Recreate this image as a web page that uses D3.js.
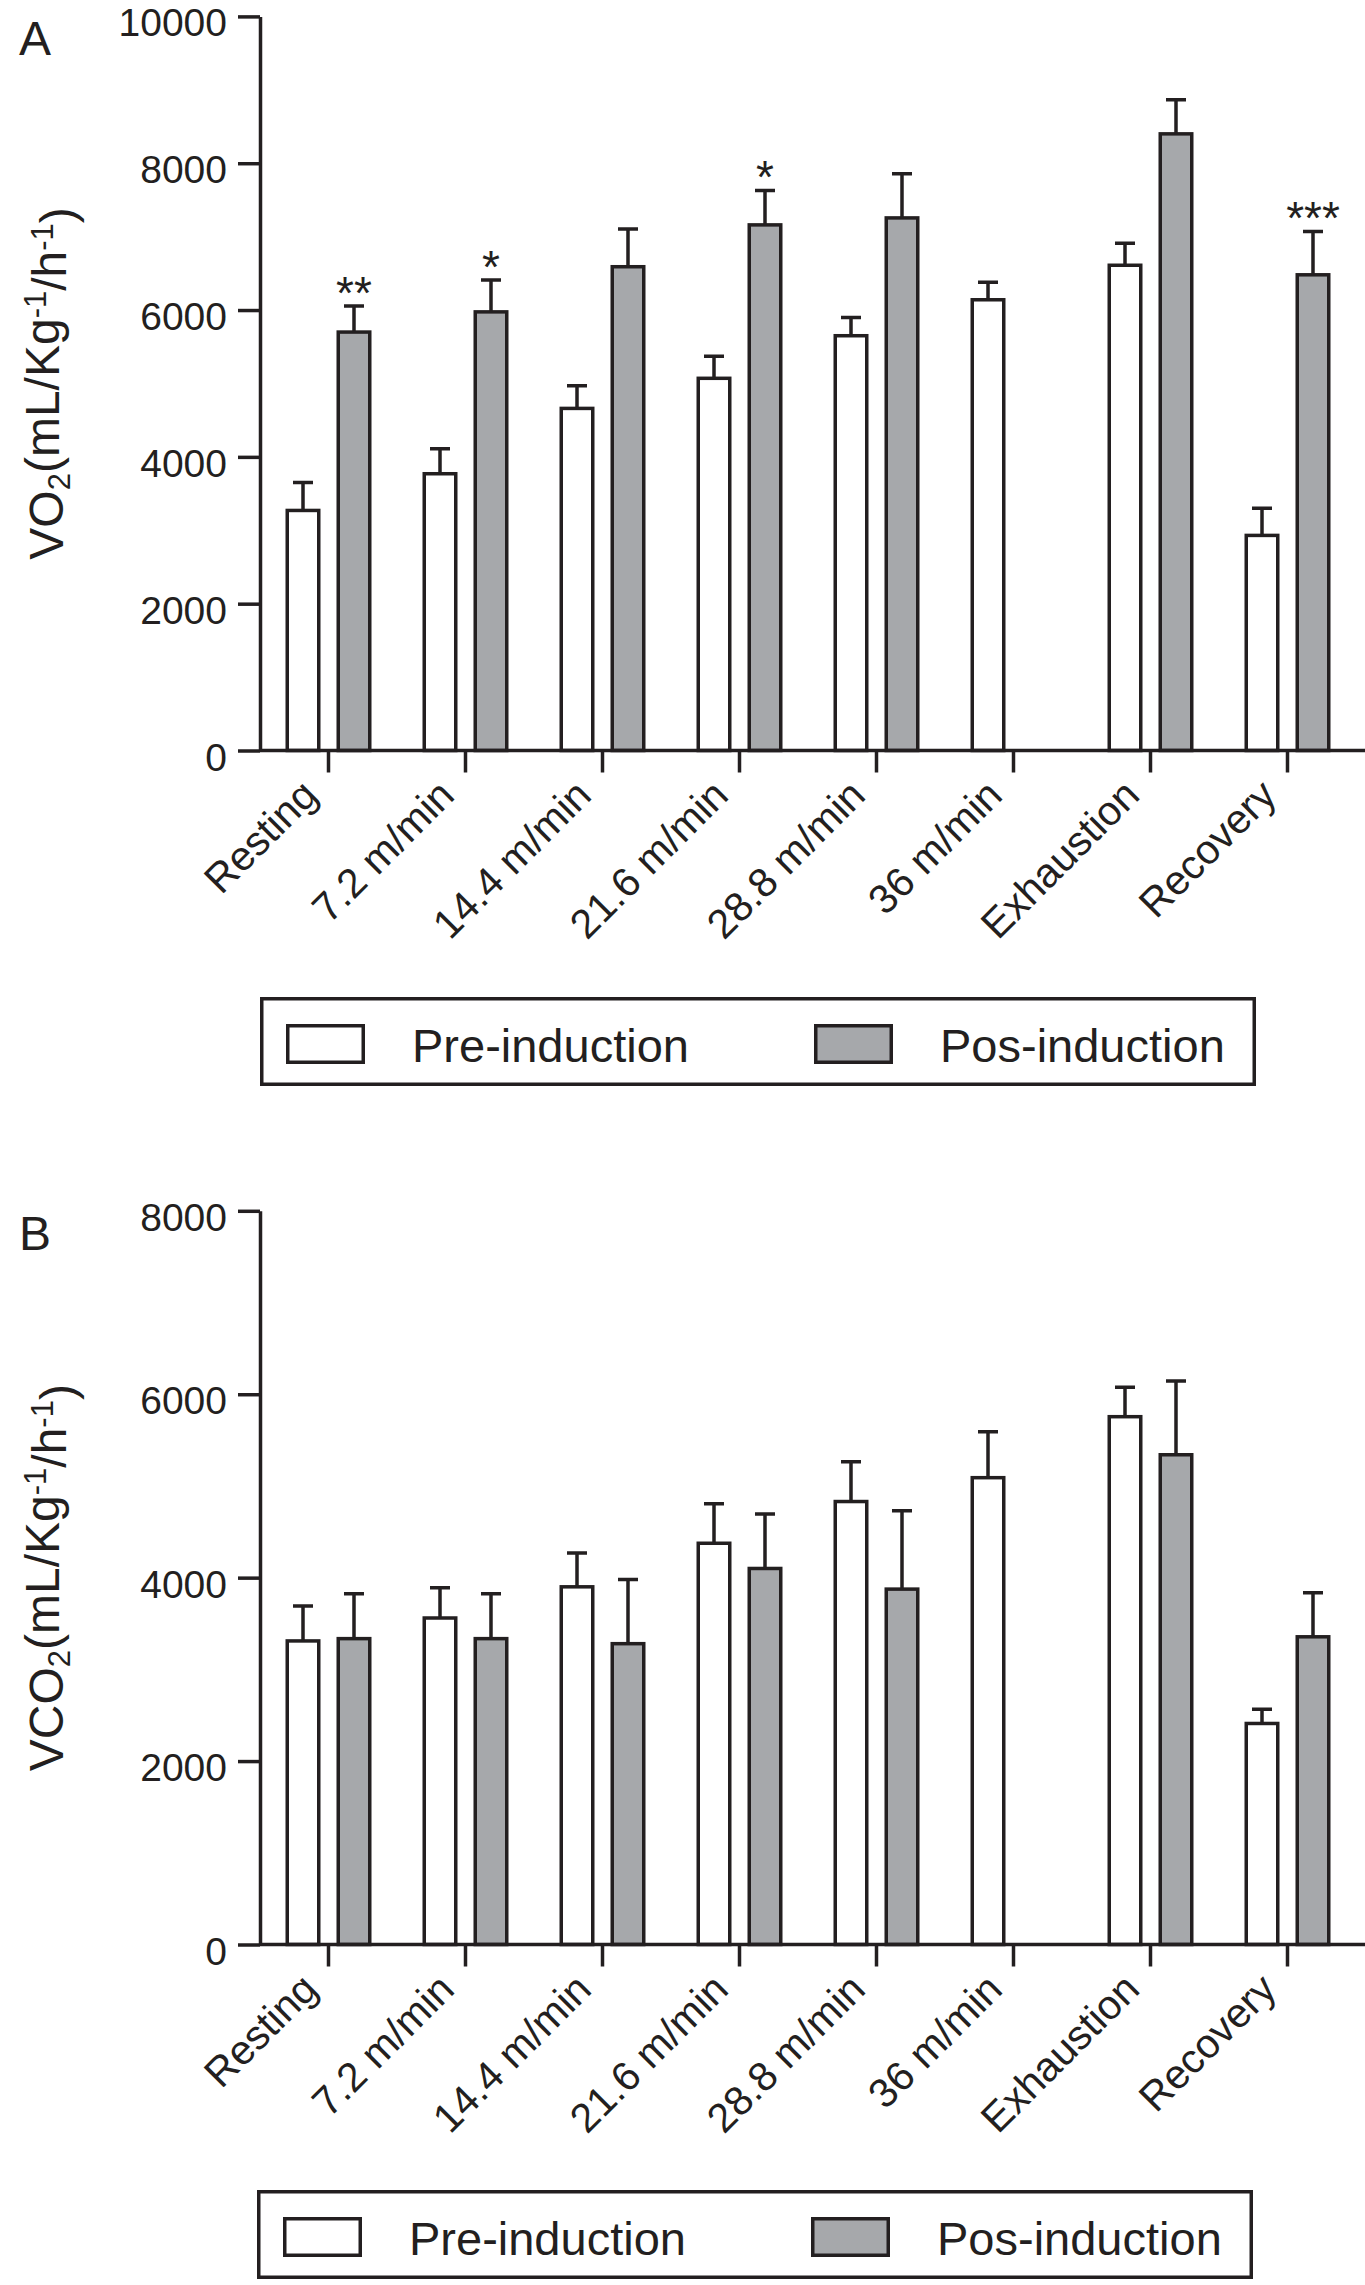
<!DOCTYPE html>
<html>
<head>
<meta charset="utf-8">
<script src="https://cdn.jsdelivr.net/npm/d3@7"></script>
<style>
  body { margin: 0; background: #fff; }
  svg text { font-family: "Liberation Sans", Arial, Helvetica, sans-serif; fill: #231f20; }
</style>
</head>
<body>
<svg id="chart" width="1365" height="2285"></svg>
<script>
// categories on the x axis (same for both panels)
const categories = ["Resting", "7.2 m/min", "14.4 m/min", "21.6 m/min", "28.8 m/min", "36 m/min", "Exhaustion", "Recovery"];
const seriesNames = ["Pre-induction", "Pos-induction"];

// panel A: VO2 means and SEM (null = no bar)
const vo2Pre = [3270, 3770, 4660, 5070, 5650, 6140, 6610, 2930];
const vo2PreErr = [380, 340, 310, 300, 250, 240, 300, 370];
const vo2Pos = [5700, 5975, 6590, 7160, 7255, null, 8400, 6480];
const vo2PosErr = [355, 435, 515, 470, 600, null, 465, 590];
const vo2Stars = ["**", "*", "", "*", "", "", "", "***"];
const vo2Ticks = [0, 2000, 4000, 6000, 8000, 10000];

// panel B: VCO2 means and SEM
const vco2Pre = [3310, 3560, 3900, 4375, 4830, 5090, 5755, 2410];
const vco2PreErr = [380, 330, 370, 430, 435, 500, 320, 155];
const vco2Pos = [3335, 3335, 3280, 4100, 3875, null, 5340, 3355];
const vco2PosErr = [490, 490, 700, 595, 855, null, 805, 480];
const vco2Stars = ["", "", "", "", "", "", "", ""];
const vco2Ticks = [0, 2000, 4000, 6000, 8000];

const ink = "#231f20";
const grey = "#a6a8ab";
const lw = 3.5;

const svg = d3.select("#chart");
svg.append("rect").attr("width", 1365).attr("height", 2285).attr("fill", "#fff");

const drawPanel = (opts) => {
    const g = svg.append("g");
    const x0 = d3.scaleBand().domain(categories).range([260, 1356]).padding(0);
    const x1 = d3.scaleBand().domain(seriesNames).range([-43, 43]).paddingInner(0.3137);
    const y = d3.scaleLinear().domain([0, d3.max(opts.ticks)]).range([opts.bottom, opts.top]);

    // bars
    const rows = [];
    categories.forEach((c, i) => {
        rows.push({ cat: c, s: seriesNames[0], v: opts.pre[i], e: opts.preErr[i], star: "" });
        rows.push({ cat: c, s: seriesNames[1], v: opts.pos[i], e: opts.posErr[i], star: opts.stars[i] });
    });
    const data = rows.filter(d => d.v != null);
    const cx = d => x0(d.cat) + x0.bandwidth() / 2 + x1(d.s);

    g.selectAll(".bar")
        .data(data)
        .join("rect")
        .attr("class", "bar")
        .attr("x", d => cx(d) + lw / 2)
        .attr("width", x1.bandwidth() - lw)
        .attr("y", d => y(d.v))
        .attr("height", d => y(0) - y(d.v))
        .attr("fill", d => d.s === seriesNames[0] ? "#fff" : grey)
        .attr("stroke", ink)
        .attr("stroke-width", lw);

    // error bars (upper only)
    const mid = d => cx(d) + x1.bandwidth() / 2;
    g.selectAll(".err")
        .data(data)
        .join("path")
        .attr("class", "err")
        .attr("d", d => `M${mid(d)},${y(d.v)}V${y(d.v + d.e)}M${mid(d) - 10},${y(d.v + d.e)}H${mid(d) + 10}`)
        .attr("fill", "none")
        .attr("stroke", ink)
        .attr("stroke-width", lw);

    g.selectAll(".star")
        .data(data.filter(d => d.star))
        .join("text")
        .attr("class", "star")
        .attr("x", mid)
        .attr("y", d => y(d.v + d.e) + 3)
        .attr("text-anchor", "middle")
        .style("font-size", "46px")
        .text(d => d.star);

    // y axis
    const yAxis = g.append("g")
        .attr("transform", `translate(${x0.range()[0]},0)`)
        .call(d3.axisLeft(y).tickValues(opts.ticks).tickSize(22).tickSizeOuter(0).tickPadding(11).tickFormat(d3.format("d")));
    yAxis.selectAll("path, line").attr("stroke", ink).attr("stroke-width", lw);
    yAxis.selectAll("text").attr("dy", "0.5em").style("font-size", "39px").attr("fill", ink);

    // x axis
    const xAxis = g.append("g")
        .attr("transform", `translate(0,${y(0)})`)
        .call(d3.axisBottom(x0).tickSize(22).tickSizeOuter(0));
    xAxis.select(".domain").remove();
    xAxis.append("line")
        .attr("x1", x0.range()[0]).attr("x2", 1365)
        .attr("stroke", ink).attr("stroke-width", lw);
    xAxis.selectAll("line").attr("stroke", ink).attr("stroke-width", lw);
    xAxis.selectAll(".tick text")
        .attr("x", 0).attr("y", 0).attr("dy", null)
        .attr("transform", "translate(-9,47) rotate(-45)")
        .attr("text-anchor", "end")
        .attr("fill", ink)
        .style("font-size", "41px");

    // y axis title
    const title = g.append("text")
        .attr("transform", `translate(63,${(opts.top + opts.bottom) / 2}) rotate(-90)`)
        .attr("text-anchor", "middle")
        .style("font-size", "48px");
    title.append("tspan").text(opts.gas);
    title.append("tspan").attr("dy", "0.22em").style("font-size", "31px").text("2");
    title.append("tspan").attr("dy", "-0.22em").text("(mL/Kg");
    title.append("tspan").attr("dy", "-0.42em").style("font-size", "31px").text("-1");
    title.append("tspan").attr("dy", "0.42em").text("/h");
    title.append("tspan").attr("dy", "-0.42em").style("font-size", "31px").text("-1");
    title.append("tspan").attr("dy", "0.42em").text(")");

    // panel letter
    g.append("text")
        .attr("x", 19).attr("y", opts.top + 39)
        .style("font-size", "48px")
        .text(opts.letter);

    // legend
    const lg = g.append("g").attr("transform", `translate(${opts.legend[0]},${opts.legend[1]})`);
    lg.append("rect")
        .attr("x", lw / 2).attr("y", lw / 2)
        .attr("width", 996 - lw).attr("height", 89 - lw)
        .attr("fill", "#fff").attr("stroke", ink).attr("stroke-width", lw);
    const items = lg.selectAll(".item")
        .data(seriesNames)
        .join("g")
        .attr("class", "item")
        .attr("transform", (d, i) => `translate(${i ? 554 : 26},0)`);
    items.append("rect")
        .attr("x", lw / 2).attr("y", 27 + lw / 2)
        .attr("width", 79 - lw).attr("height", 40 - lw)
        .attr("fill", (d, i) => i ? grey : "#fff")
        .attr("stroke", ink).attr("stroke-width", lw);
    items.append("text")
        .attr("x", 126).attr("y", 65)
        .style("font-size", "47px")
        .text(d => d);
};

drawPanel({
    letter: "A", gas: "VO", top: 16.4, bottom: 750.5, ticks: vo2Ticks,
    pre: vo2Pre, preErr: vo2PreErr, pos: vo2Pos, posErr: vo2PosErr, stars: vo2Stars,
    legend: [260, 997]
});

drawPanel({
    letter: "B", gas: "VCO", top: 1210.8, bottom: 1944.5, ticks: vco2Ticks,
    pre: vco2Pre, preErr: vco2PreErr, pos: vco2Pos, posErr: vco2PosErr, stars: vco2Stars,
    legend: [257, 2190]
});
</script>
</body>
</html>
